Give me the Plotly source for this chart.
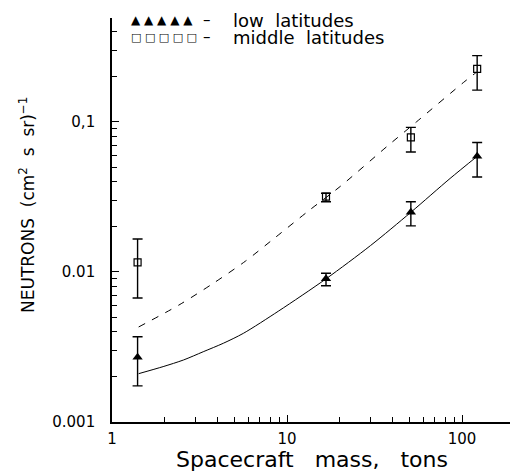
import plotly.graph_objects as go

# measured data
mass = [1.4, 16.7, 51, 122]
low_lat = [0.0027, 0.0090, 0.025, 0.059]
low_err_plus = [0.0010, 0.0008, 0.0044, 0.014]
low_err_minus = [0.00096, 0.0009, 0.0047, 0.016]
mid_lat = [0.0116, 0.0318, 0.079, 0.226]
mid_err_plus = [0.0050, 0.0017, 0.013, 0.051]
mid_err_minus = [0.0049, 0.0024, 0.016, 0.063]

# model curves
solid_x = [1.42, 1.96, 2.56, 3.32, 4.33, 5.63, 8.97, 16.7, 30, 51, 85.4, 122]
solid_y = [0.0021, 0.00234, 0.00259, 0.00294, 0.00335, 0.0039, 0.0055, 0.0090,
           0.0150, 0.0250, 0.0420, 0.059]
dash_x = [1.42, 2.4, 3.73, 5.78, 8.58, 13.3, 20.1, 37.1, 55.1, 101.7, 120]
dash_y = [0.0043, 0.0060, 0.0083, 0.0118, 0.0170, 0.0256, 0.0371, 0.0684, 0.1005, 0.183, 0.213]

xtick_vals = [1, 10, 100]
xtick_text = ["1", "10", "100"]
ytick_vals = [0.001, 0.01, 0.1]
ytick_text = ["0.001", "0.01", "0,1"]

font = "DejaVu Sans"

# plot area in pixels (for paper-coordinate text placement)
L, R, T, B = 112, 510, 18, 422
def px(x):
    return (x - L) / (R - L)
def py(y):
    return (B - y) / (B - T)

fig = go.Figure()
fig.add_trace(go.Scatter(x=solid_x, y=solid_y, mode="lines",
                         line=dict(color="black", width=1, shape="spline", smoothing=0.8),
                         showlegend=False, hoverinfo="skip"))
fig.add_trace(go.Scatter(x=dash_x, y=dash_y, mode="lines",
                         line=dict(color="black", width=1, dash="7px,8px", shape="spline",
                                   smoothing=0.8),
                         showlegend=False, hoverinfo="skip"))
fig.add_trace(go.Scatter(x=mass, y=low_lat, mode="markers", name="low latitudes",
                         marker=dict(symbol="triangle-up", size=9, color="black"),
                         error_y=dict(type="data", symmetric=False, array=low_err_plus,
                                      arrayminus=low_err_minus, color="black",
                                      thickness=1.4, width=5),
                         showlegend=False))
fig.add_trace(go.Scatter(x=mass, y=mid_lat, mode="markers", name="middle latitudes",
                         marker=dict(symbol="square-open", size=7, color="black",
                                     line=dict(width=1.2)),
                         error_y=dict(type="data", symmetric=False, array=mid_err_plus,
                                      arrayminus=mid_err_minus, color="black",
                                      thickness=1.4, width=5),
                         showlegend=False))

# legend drawn as text
legend_rows = [("▲ ▲ ▲ ▲ ▲", 12, "low  latitudes", 20), ("□ □ □ □ □", 11, "middle  latitudes", 37)]
for sym, symsize, label, yy in legend_rows:
    fig.add_annotation(xref="paper", yref="paper", x=px(129), y=py(yy), xanchor="left",
                       yanchor="middle", text=sym, showarrow=False,
                       font=dict(family=font, size=symsize, color="black"))
    fig.add_annotation(xref="paper", yref="paper", x=px(201), y=py(yy), xanchor="left",
                       yanchor="middle", text="–", showarrow=False,
                       font=dict(family=font, size=15, color="black"))
    fig.add_annotation(xref="paper", yref="paper", x=px(231), y=py(yy), xanchor="left",
                       yanchor="middle", text=label, showarrow=False,
                       font=dict(family=font, size=18, color="black"))

# axis titles
fig.add_annotation(xref="paper", yref="paper", x=px(312), y=py(459), xanchor="center",
                   yanchor="middle", text="Spacecraft   mass,   tons", showarrow=False,
                   font=dict(family=font, size=22, color="black"))
fig.add_annotation(xref="paper", yref="paper", x=px(27), y=py(205), xanchor="center",
                   yanchor="middle", textangle=-90,
                   text="NEUTRONS  (cm<sup>2</sup>  s  sr)<sup>−1</sup>", showarrow=False,
                   font=dict(family=font, size=17, color="black"))

fig.update_layout(
    width=510, height=473,
    margin=dict(l=L, r=510 - R, t=T, b=473 - B),
    paper_bgcolor="white", plot_bgcolor="white",
    font=dict(family=font, color="black", size=15),
    xaxis=dict(type="log", range=[0, 2.274], showgrid=False, zeroline=False,
               showline=True, linecolor="black", linewidth=1.6,
               tickvals=xtick_vals, ticktext=xtick_text, ticks="inside", ticklen=7,
               tickcolor="black", tickwidth=1.3, ticklabelstandoff=2,
               minor=dict(ticks="inside", ticklen=5, tickcolor="black", tickwidth=1,
                          dtick="D1", showgrid=False)),
    yaxis=dict(type="log", range=[-3, -0.307], showgrid=False, zeroline=False,
               showline=True, linecolor="black", linewidth=1.6,
               tickvals=ytick_vals, ticktext=ytick_text, ticks="inside", ticklen=7,
               tickcolor="black", tickwidth=1.3, ticklabelstandoff=12,
               minor=dict(ticks="inside", ticklen=5, tickcolor="black", tickwidth=1,
                          dtick="D1", showgrid=False)),
)

fig.write_html("out.html")
